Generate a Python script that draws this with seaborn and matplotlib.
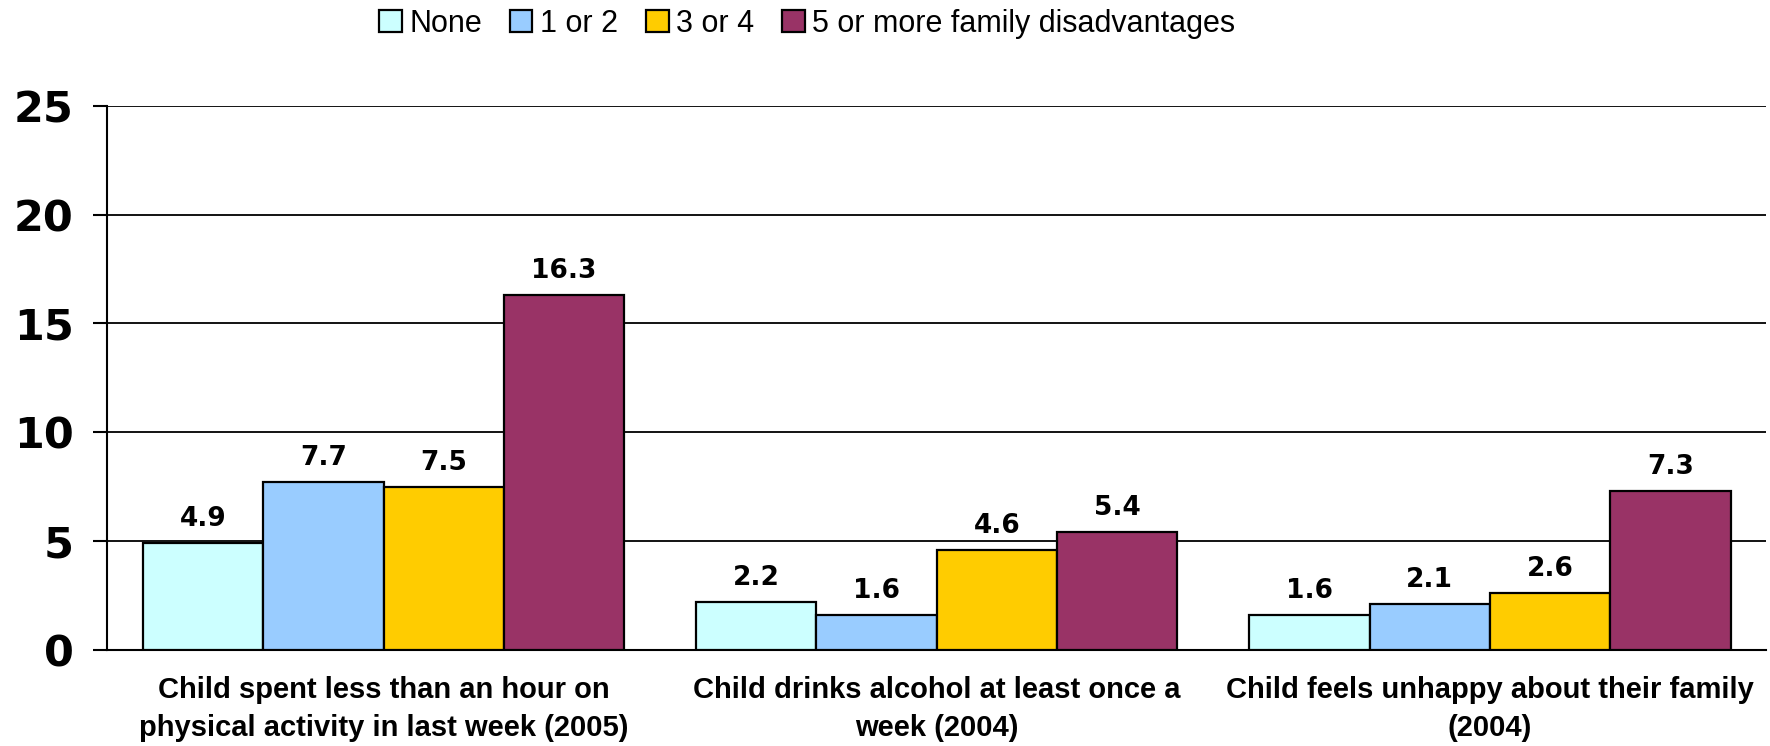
import matplotlib
matplotlib.use("Agg")
import matplotlib.pyplot as plt
import seaborn as sns
import pandas as pd

categories = [
    "Child spent less than an hour on\nphysical activity in last week (2005)",
    "Child drinks alcohol at least once a\nweek (2004)",
    "Child feels unhappy about their family\n(2004)",
]
groups = ["None", "1 or 2", "3 or 4", "5 or more family disadvantages"]
values_none = [4.9, 2.2, 1.6]
values_1_2 = [7.7, 1.6, 2.1]
values_3_4 = [7.5, 4.6, 2.6]
values_5plus = [16.3, 5.4, 7.3]
colors = ["#CCFFFF", "#99CCFF", "#FFCC00", "#993366"]

series = [values_none, values_1_2, values_3_4, values_5plus]
rows = []
for g, vals in zip(groups, series):
    for c, v in zip(categories, vals):
        rows.append({"category": c, "group": g, "value": v})
df = pd.DataFrame(rows)

sns.set_theme(style="white")
plt.rcParams["font.family"] = ["DejaVu Sans"]
plt.rcParams["text.color"] = "black"
plt.rcParams["xtick.color"] = "black"
plt.rcParams["ytick.color"] = "black"
plt.rcParams["axes.labelcolor"] = "black"

fig = plt.figure(figsize=(17.7, 7.46), dpi=100)
ax = fig.add_axes([0.0605, 0.129, 0.9375, 0.729])

sns.barplot(data=df, x="category", y="value", hue="group", order=categories,
            hue_order=groups, palette=colors, width=0.87, edgecolor="black",
            linewidth=1.6, saturation=1, ax=ax, errorbar=None, zorder=3)

ax.set_ylim(0, 25)
ax.set_xlim(-0.5, 2.5)
ax.set_yticks([0, 5, 10, 15, 20, 25])
ax.yaxis.grid(True, color="black", linewidth=1.3, zorder=0)
ax.set_axisbelow(True)
for s in ["top", "right"]:
    ax.spines[s].set_visible(False)
ax.spines["left"].set_color("black")
ax.spines["left"].set_linewidth(1.5)
ax.spines["bottom"].set_color("black")
ax.spines["bottom"].set_linewidth(1.5)
ax.tick_params(axis="y", direction="out", length=10, width=1.5, color="black",
               left=True, labelsize=31, pad=14, labelcolor="black")
ax.tick_params(axis="x", length=0, pad=19, labelcolor="black")
for lab in ax.get_yticklabels():
    lab.set_fontweight("bold")
ax.set_xlabel("")
ax.set_ylabel("")
for lab in ax.get_xticklabels():
    lab.set_fontfamily(["Liberation Sans Narrow", "Liberation Sans", "DejaVu Sans"])
    lab.set_fontweight("bold")
    lab.set_fontsize(21)
    lab.set_linespacing(1.45)

for cont in ax.containers:
    ax.bar_label(cont, fmt="%.1f", padding=8, fontsize=19, fontweight="bold", color="black")

handles, labels = ax.get_legend_handles_labels()
ax.legend_.remove()
leg = fig.legend(handles, labels, loc="center", bbox_to_anchor=(0.456, 0.968), ncol=4,
                 frameon=False, handlelength=0.75, handleheight=0.75, handletextpad=0.25,
                 columnspacing=0.9, prop={"family": ["Liberation Sans", "DejaVu Sans"], "size": 22})
for t in leg.get_texts():
    t.set_color("black")

fig.savefig("out.png", dpi=100)
